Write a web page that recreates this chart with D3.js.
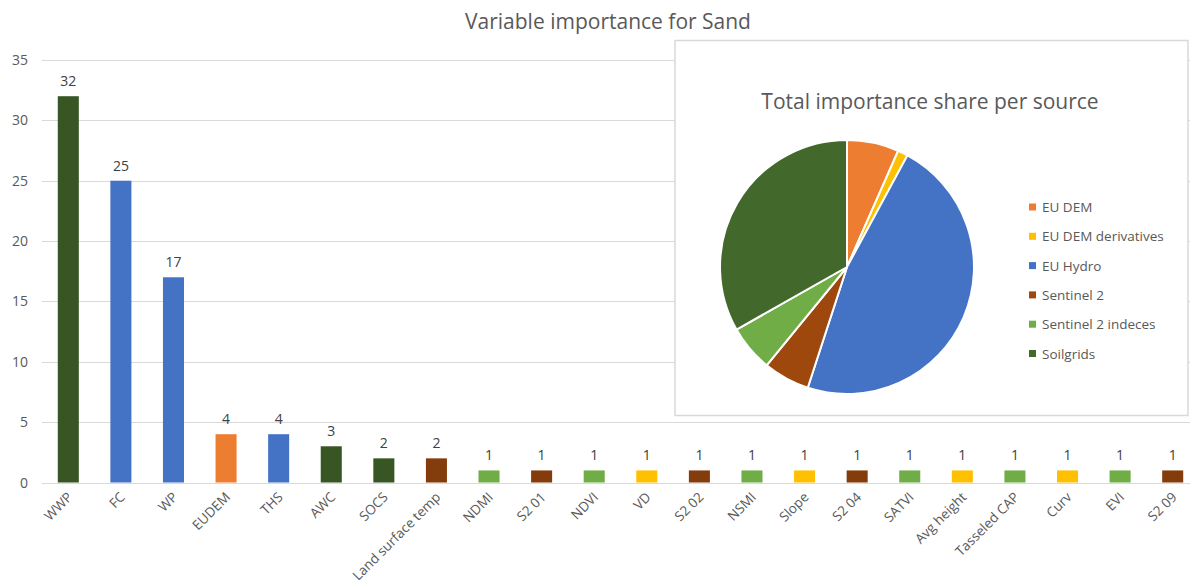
<!DOCTYPE html>
<html>
<head>
<meta charset="utf-8">
<script src="https://cdn.jsdelivr.net/npm/d3@7"></script>
<style>
	body { margin: 0; background: #fff; }
	svg { display: block; font-family: "Open Sans", sans-serif; }
</style>
</head>
<body>
<div id="chart"></div>
<script>
// bar data: variable, importance, source
const variables = ['WWP', 'FC', 'WP', 'EUDEM', 'THS', 'AWC', 'SOCS', 'Land surface temp', 'NDMI', 'S2 01',
	'NDVI', 'VD', 'S2 02', 'NSMI', 'Slope', 'S2 04', 'SATVI', 'Avg height', 'Tasseled CAP', 'Curv', 'EVI', 'S2 09'];
const importance = [32, 25, 17, 4, 4, 3, 2, 2, 1, 1, 1, 1, 1, 1, 1, 1, 1, 1, 1, 1, 1, 1];
const varSource = ['Soilgrids', 'EU Hydro', 'EU Hydro', 'EU DEM', 'EU Hydro', 'Soilgrids', 'Soilgrids', 'Sentinel 2',
	'Sentinel 2 indeces', 'Sentinel 2', 'Sentinel 2 indeces', 'EU DEM derivatives', 'Sentinel 2', 'Sentinel 2 indeces',
	'EU DEM derivatives', 'Sentinel 2', 'Sentinel 2 indeces', 'EU DEM derivatives', 'Sentinel 2 indeces',
	'EU DEM derivatives', 'Sentinel 2 indeces', 'Sentinel 2'];
const yTicks = [0, 5, 10, 15, 20, 25, 30, 35];

// pie data (share in %)
const sources = ['EU DEM', 'EU DEM derivatives', 'EU Hydro', 'Sentinel 2', 'Sentinel 2 indeces', 'Soilgrids'];
const sourceShare = [6.6, 1.3, 47.1, 5.9, 5.9, 33.2];

const barColors = {
	'EU DEM': '#ED7D31', 'EU DEM derivatives': '#FFC000', 'EU Hydro': '#4472C4',
	'Sentinel 2': '#843C0C', 'Sentinel 2 indeces': '#70AD47', 'Soilgrids': '#375623'
};
const pieColors = {
	'EU DEM': '#ED7D31', 'EU DEM derivatives': '#FFC000', 'EU Hydro': '#4472C4',
	'Sentinel 2': '#9E480E', 'Sentinel 2 indeces': '#70AD47', 'Soilgrids': '#43682B'
};

const W = 1190, H = 587;
const textColor = '#595959';

const svg = d3.select('#chart').append('svg')
	.attr('width', W)
	.attr('height', H);

svg.append('text')
	.attr('x', 608).attr('y', 29)
	.attr('text-anchor', 'middle')
	.attr('font-size', 21)
	.attr('fill', textColor)
	.text('Variable importance for Sand');

let x = d3.scaleBand()
	.domain(variables)
	.range([42, 1199])
	.paddingInner(0.6)
	.paddingOuter(0.3);
let y = d3.scaleLinear()
	.domain([0, 35])
	.range([482.5, 60]);

// gridlines
svg.append('g')
	.selectAll('line')
	.data(yTicks)
	.enter()
	.append('line')
		.attr('x1', 42).attr('x2', W)
		.attr('y1', d => Math.round(y(d)) + 0.5)
		.attr('y2', d => Math.round(y(d)) + 0.5)
		.attr('stroke', '#d9d9d9')
		.attr('stroke-width', 1);

// y labels
svg.append('g')
	.selectAll('text')
	.data(yTicks)
	.enter()
	.append('text')
		.attr('x', 28)
		.attr('y', d => y(d) + 5)
		.attr('text-anchor', 'end')
		.attr('font-size', 14)
		.attr('fill', textColor)
		.text(d => d);

const bars = variables.map((v, i) => ({name: v, value: importance[i], source: varSource[i]}));

svg.append('g')
	.selectAll('rect')
	.data(bars)
	.enter()
	.append('rect')
		.attr('x', d => x(d.name))
		.attr('y', d => y(d.value))
		.attr('width', x.bandwidth())
		.attr('height', d => y(0) - y(d.value))
		.attr('fill', d => barColors[d.source]);

// value labels
svg.append('g')
	.selectAll('text')
	.data(bars)
	.enter()
	.append('text')
		.attr('x', d => x(d.name) + x.bandwidth() / 2)
		.attr('y', d => y(d.value) - 10)
		.attr('text-anchor', 'middle')
		.attr('font-size', 14)
		.attr('fill', '#404040')
		.text(d => d.value);

// category labels, rotated
svg.append('g')
	.selectAll('text')
	.data(bars)
	.enter()
	.append('text')
		.attr('transform', d => 'translate(' + (x(d.name) + x.bandwidth() / 2 + 5) + ',' + 498 + ') rotate(-45)')
		.attr('text-anchor', 'end')
		.attr('font-size', 13.5)
		.attr('fill', textColor)
		.text(d => d.name);

// inset pie chart
const inset = svg.append('g');
inset.append('rect')
	.attr('x', 675).attr('y', 40.5)
	.attr('width', 513).attr('height', 375)
	.attr('fill', '#fff')
	.attr('stroke', '#d9d9d9')
	.attr('stroke-width', 1.5);

inset.append('text')
	.attr('x', 930).attr('y', 109)
	.attr('text-anchor', 'middle')
	.attr('font-size', 21)
	.attr('fill', textColor)
	.text('Total importance share per source');

const pieData = sources.map((s, i) => ({name: s, value: sourceShare[i]}));
const pie = d3.pie().sort(null).value(d => d.value);
const arc = d3.arc().innerRadius(0).outerRadius(127);

inset.append('g')
	.attr('transform', 'translate(847,267)')
	.selectAll('path')
	.data(pie(pieData))
	.enter()
	.append('path')
		.attr('d', arc)
		.attr('fill', d => pieColors[d.data.name])
		.attr('stroke', '#fff')
		.attr('stroke-width', 2);

// legend
const legend = inset.append('g')
	.selectAll('g')
	.data(sources)
	.enter()
	.append('g')
		.attr('transform', (d, i) => 'translate(1029,' + (207 + i * 29.3) + ')');
legend.append('rect')
	.attr('x', 0).attr('y', -3.5)
	.attr('width', 7).attr('height', 7)
	.attr('fill', d => pieColors[d]);
legend.append('text')
	.attr('x', 13).attr('y', 5)
	.attr('font-size', 13.5)
	.attr('fill', textColor)
	.text(d => d);
</script>
</body>
</html>
